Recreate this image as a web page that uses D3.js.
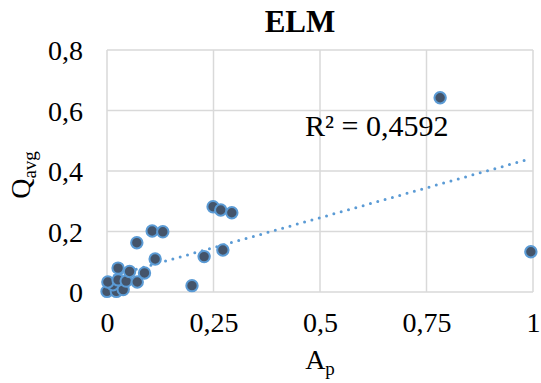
<!DOCTYPE html>
<html><head><meta charset="utf-8">
<script src="https://cdn.jsdelivr.net/npm/d3@7"></script>
<style>body{margin:0;background:#fff}svg{display:block}svg text{font-family:"Liberation Serif","Times New Roman",Tinos,"DejaVu Serif",serif !important;fill:#000}</style>
</head><body><svg id="c" width="541" height="383"></svg>
<script>
const apValues = [0.000,0.022,0.038,0.014,0.002,0.026,0.045,0.071,0.053,0.088,0.026,0.070,0.113,0.106,0.131,0.1995,0.228,0.249,0.267,0.293,0.272,0.782,0.995];
const qValues  = [0.002,0.002,0.008,0.024,0.033,0.040,0.036,0.033,0.068,0.063,0.079,0.163,0.109,0.2017,0.199,0.021,0.117,0.282,0.271,0.262,0.139,0.642,0.133];
// linear trendline as shown in the picture: [intercept, slope]
const trendCoef = [0.048, 0.395];
const xTicks = [0,0.25,0.5,0.75,1];
const yTicks = [0,0.2,0.4,0.6,0.8];
const r2Label = "R² = 0,4592";
const title = "ELM";
const FONT = '"Liberation Serif","Times New Roman",Tinos,"DejaVu Serif",serif';

const svg = d3.select("#c");
const m = {l:107, r:8, t:50, b:91};
const W = 541, H = 383;
const x = d3.scaleLinear().domain([0,1]).range([m.l, W-m.r]);
const y = d3.scaleLinear().domain([0,0.8]).range([H-m.b, m.t]);
const fmt = d => String(+d.toFixed(2)).replace(".", ",");

// grid
svg.append("g").selectAll("line").data(yTicks).join("line")
  .attr("x1", x(0)).attr("x2", x(1)).attr("y1", d=>y(d)).attr("y2", d=>y(d))
  .attr("stroke", "#d9d9d9").attr("stroke-width", 1.5);
svg.append("g").selectAll("line").data(xTicks).join("line")
  .attr("y1", y(0)).attr("y2", y(0.8)).attr("x1", d=>x(d)).attr("x2", d=>x(d))
  .attr("stroke", "#d9d9d9").attr("stroke-width", 1.5);

// axes labels
const yAxis = d3.axisLeft(y).tickValues(yTicks).tickFormat(fmt).tickSize(0).tickPadding(24);
const gy = svg.append("g").attr("transform", `translate(${x(0)},0)`).call(yAxis)
  .attr("font-family", FONT).attr("font-size", 28);
gy.select(".domain").remove();
gy.selectAll("text").attr("font-size", 28).attr("dy", "0.35em").attr("fill", "#000");
const xAxis = d3.axisBottom(x).tickValues(xTicks).tickFormat(fmt).tickSize(0).tickPadding(20);
const gx = svg.append("g").attr("transform", `translate(0,${y(0)})`).call(xAxis)
  .attr("font-family", FONT).attr("font-size", 28);
gx.select(".domain").remove();
gx.selectAll("text").attr("font-size", 28).attr("dy", "0.71em").attr("fill", "#000");

// trendline
const x0 = d3.min(apValues), x1 = d3.max(apValues);
const f = v => trendCoef[0] + trendCoef[1]*v;
svg.append("line")
  .attr("x1", x(x0)).attr("y1", y(f(x0)))
  .attr("x2", x(x1)).attr("y2", y(f(x1)))
  .attr("stroke", "#5b9bd5").attr("stroke-width", 3)
  .attr("stroke-linecap", "round").attr("stroke-dasharray", "0,7.6");

// points
svg.append("g").selectAll("circle").data(apValues.map((a,i)=>[a,qValues[i]])).join("circle")
  .attr("cx", d=>x(d[0])).attr("cy", d=>y(d[1])).attr("r", 5.7)
  .attr("fill", "#44546a").attr("stroke", "#5b9bd5").attr("stroke-width", 2);

// R2 label
svg.append("text").attr("x", 305).attr("y", 136).attr("font-family", FONT).attr("font-size", 30).text(r2Label);

// title
svg.append("text").attr("x", 300).attr("y", 32).attr("text-anchor","middle").attr("font-family", FONT)
  .attr("font-size", 31).attr("font-weight","bold").text(title);

// x title
const xt = svg.append("text").attr("x", 320).attr("y", 369).attr("text-anchor","middle").attr("font-family", FONT).attr("font-size", 28);
xt.append("tspan").text("A");
xt.append("tspan").attr("font-size", 19).attr("dy", 6).text("p");

// y title
const yt = svg.append("text").attr("transform", `translate(30,175) rotate(-90)`).attr("text-anchor","middle").attr("font-family", FONT).attr("font-size", 28);
yt.append("tspan").text("Q");
yt.append("tspan").attr("font-size", 19).attr("dy", 6).text("avg");
</script></body></html>
